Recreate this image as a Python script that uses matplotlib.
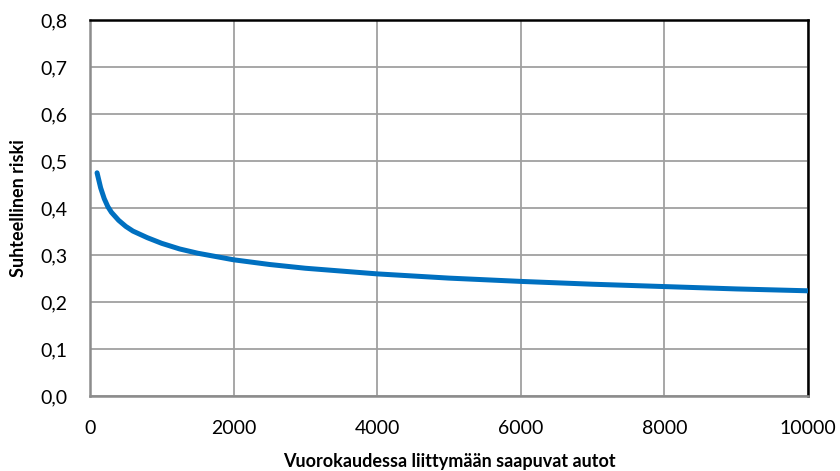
import matplotlib
matplotlib.use("Agg")
import matplotlib.pyplot as plt
from matplotlib.ticker import FuncFormatter, MultipleLocator

plt.rcParams['font.family'] = ['Lato', 'DejaVu Sans']

# vehicles per day entering the junction vs relative risk
autot = [100, 150, 200, 250, 300, 400, 500, 600, 800, 1000, 1250, 1500, 2000, 2500,
         3000, 4000, 5000, 6000, 7000, 8000, 9000, 10000]
riski = [0.475, 0.443, 0.420, 0.403, 0.391, 0.374, 0.361, 0.351, 0.337, 0.325, 0.313, 0.304,
         0.290, 0.280, 0.272, 0.260, 0.251, 0.244, 0.238, 0.233, 0.228, 0.224]

fig = plt.figure(figsize=(8.4, 4.71), dpi=100)
ax = fig.add_axes([0.107, 0.159, 0.855, 0.7985])

ax.plot(autot, riski, color='#0070C0', linewidth=3.6, solid_capstyle='round', zorder=3)

ax.set_xlim(0, 10000)
ax.set_ylim(0, 0.8)
ax.xaxis.set_major_locator(MultipleLocator(2000))
ax.yaxis.set_major_locator(MultipleLocator(0.1))
ax.yaxis.set_major_formatter(FuncFormatter(lambda v, p: "{0:.1f}".format(v).replace('.', ',')))
ax.grid(True, color='#a0a0a0', linewidth=1.3)
ax.set_axisbelow(True)

for s in ['left', 'bottom']:
    ax.spines[s].set_color('#8c8c8c')
    ax.spines[s].set_linewidth(1.8)
for s in ['top', 'right']:
    ax.spines[s].set_color('black')
    ax.spines[s].set_linewidth(1.8)

ax.tick_params(axis='both', length=0, labelsize=14)
ax.tick_params(axis='x', pad=17)
ax.tick_params(axis='y', pad=16)
ax.set_xlabel("Vuorokaudessa liittymään saapuvat autot", fontsize=13, fontweight='bold', labelpad=12)
ax.set_ylabel("Suhteellinen riski", fontsize=13, fontweight='bold', labelpad=10)

fig.savefig("out.png", dpi=100)
